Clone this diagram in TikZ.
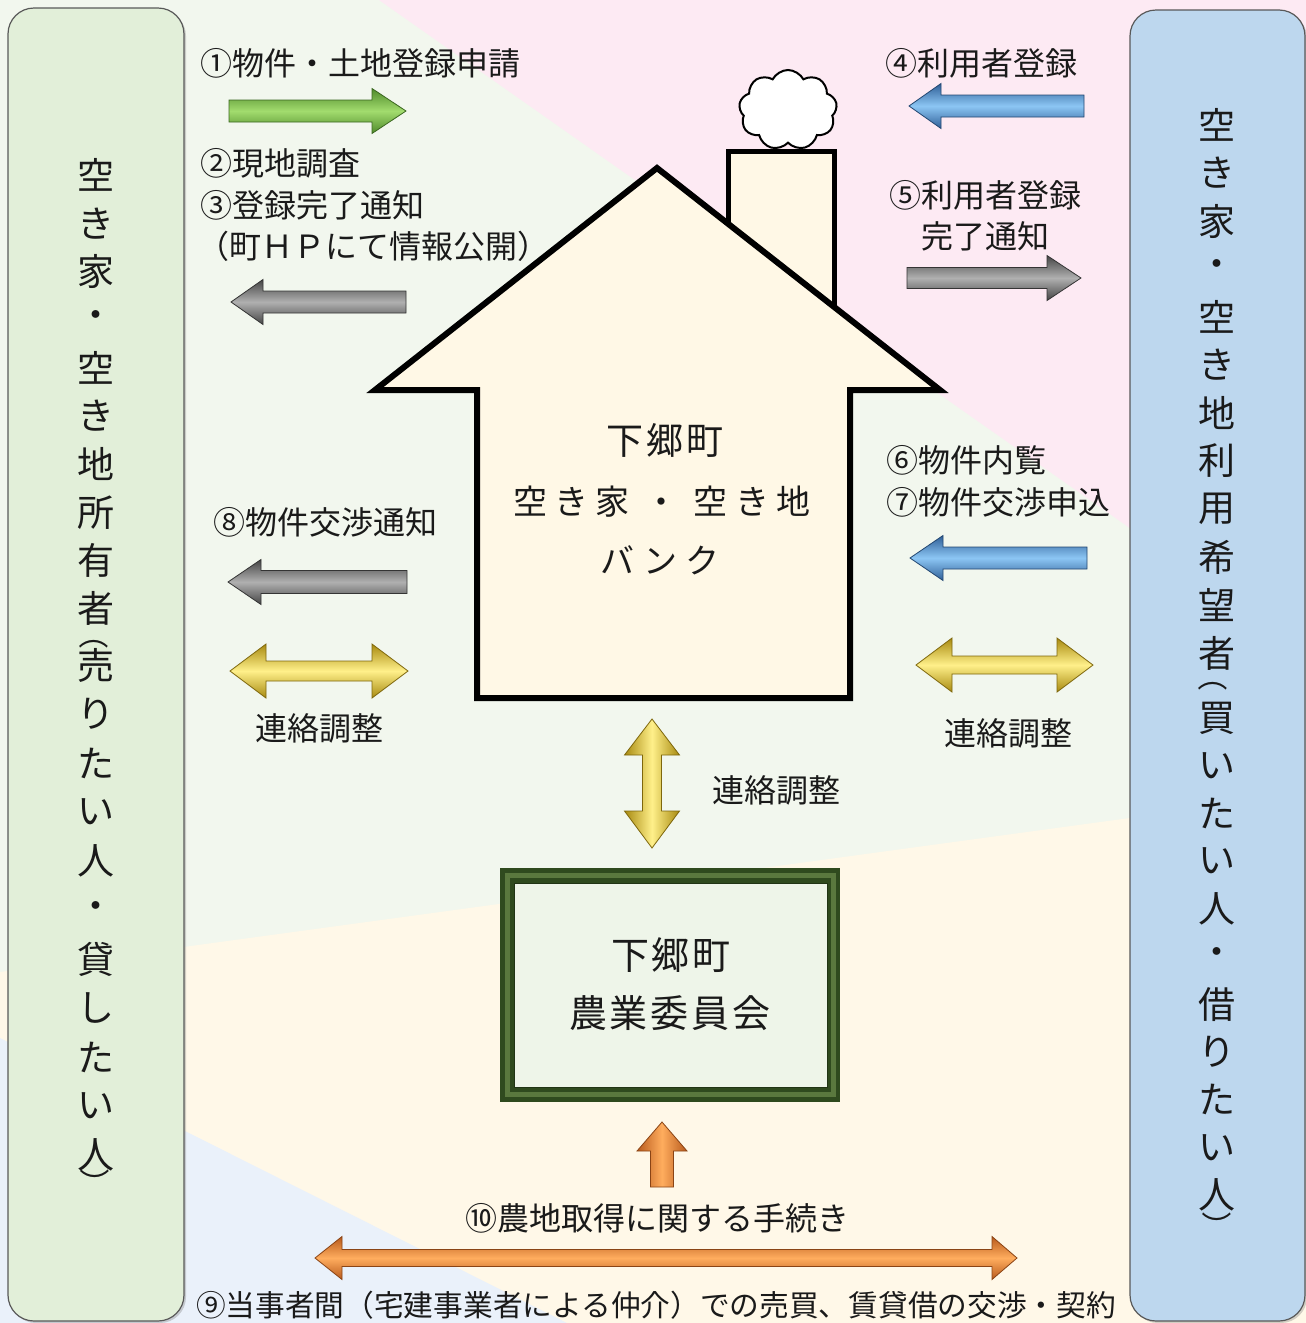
\documentclass[tikz,border=0pt]{standalone}
\usepackage{fontspec}
\usepackage{graphicx}
\setmainfont{Noto Sans CJK JP}
\usetikzlibrary{shapes.symbols,shadows}

\definecolor{bggreen}{HTML}{F2F7EE}
\definecolor{bgpink}{HTML}{FDEAF3}
\definecolor{bgcream}{HTML}{FFF8E8}
\definecolor{bgblue}{HTML}{EAF1FA}
\definecolor{housefill}{HTML}{FFF8E6}
\definecolor{leftfill}{HTML}{E2EFD9}
\definecolor{rightfill}{HTML}{BDD7EE}
\definecolor{boxline}{HTML}{595959}
\definecolor{txt}{HTML}{1A1A1A}
\definecolor{grayD}{HTML}{454545}
\definecolor{grayL}{HTML}{B0B0B0}
\definecolor{greenD}{HTML}{4F8A2A}
\definecolor{greenL}{HTML}{A2DC6E}
\definecolor{blueD}{HTML}{2F5F97}
\definecolor{blueL}{HTML}{8CC6F4}
\definecolor{yelD}{HTML}{A88A10}
\definecolor{yelL}{HTML}{FFF08A}
\definecolor{oraD}{HTML}{B85A1C}
\definecolor{oraL}{HTML}{FFAD5E}
\definecolor{frameD}{HTML}{2F4A1E}
\definecolor{frameM}{HTML}{5A783E}
\definecolor{innerfill}{HTML}{EEF5E9}

\tikzset{
  hshade/.style 2 args={top color=#1, bottom color=#1, middle color=#2, draw=#1!75!black, line width=0.8pt},
  vshade/.style 2 args={left color=#1, right color=#1, middle color=#2, draw=#1!75!black, line width=0.8pt},
  lbl/.style={font=\fontsize{32}{38}\selectfont, text=txt, inner sep=0pt},
  vch/.style={font=\fontsize{37}{40}\selectfont, text=txt, inner sep=0pt},
  vpar/.style={font=\fontsize{30}{30}\selectfont, text=txt, inner sep=0pt},
  bankfont/.style={font=\fontsize{#1}{#1}\selectfont, text=txt, inner sep=0pt},
  sidebox/.style={draw=boxline, line width=1.2pt, rounded corners=26pt, inner sep=0pt,
    drop shadow={shadow xshift=2pt, shadow yshift=-2pt, opacity=0.35}},
}

\newcommand\HArr[7]{\path[#1] (#2,#5-#6) -- (#3,#5-#6) -- (#3,#5-#7) -- (#4,#5) -- (#3,#5+#7) -- (#3,#5+#6) -- (#2,#5+#6) -- cycle;}
\newcommand\DHArr[8]{\path[#1] (#2,#6) -- (#3,#6-#8) -- (#3,#6-#7) -- (#4,#6-#7) -- (#4,#6-#8) -- (#5,#6) -- (#4,#6+#8) -- (#4,#6+#7) -- (#3,#6+#7) -- (#3,#6+#8) -- cycle;}
\newcommand\DVArr[8]{\path[#1] (#6,#2) -- (#6-#8,#3) -- (#6-#7,#3) -- (#6-#7,#4) -- (#6-#8,#4) -- (#6,#5) -- (#6+#8,#4) -- (#6+#7,#4) -- (#6+#7,#3) -- (#6+#8,#3) -- cycle;}
\newcommand\VArr[7]{\path[#1] (#5-#6,#2) -- (#5-#6,#3) -- (#5-#7,#3) -- (#5,#4) -- (#5+#7,#3) -- (#5+#6,#3) -- (#5+#6,#2) -- cycle;}
\newcommand\vopen{\rotatebox[origin=c]{-90}{（}}
\newcommand\vclose{\rotatebox[origin=c]{-90}{）}}

\begin{document}
\begin{tikzpicture}[x=1pt,y=-1pt]
\useasboundingbox (0,0) rectangle (1306,1323);
% background regions
\fill[bggreen] (0,0) rectangle (1306,1323);
\fill[bgpink] (379,0) -- (1306,0) -- (1306,652) -- cycle;
\fill[bgcream] (0,972) -- (1306,794) -- (1306,1323) -- (0,1323) -- cycle;
\fill[bgblue] (0,1038) -- (567,1323) -- (0,1323) -- cycle;

% side boxes
\node[sidebox, fill=leftfill, minimum width=176, minimum height=1313] (leftbox) at (96,664.5) {};
\node[sidebox, fill=rightfill, minimum width=175, minimum height=1311] (rightbox) at (1217.5,665.5) {};

% left vertical text
\foreach \c [count=\i] in {空,き,家,・,空,き,地,所,有,者}
  \node[vch] (La\i) at (96,{175+48.2*(\i-1)}) {\c};
\node[vpar] (Lpo) at (94,634) {\vopen};
\foreach \c [count=\i] in {売,り,た,い,人,・,貸,し,た,い,人}
  \node[vch] (Lb\i) at (96,{665+49*(\i-1)}) {\c};
\node[vpar] (Lpc) at (95,1183) {\vclose};

% right vertical text
\foreach \c [count=\i] in {空,き,家,・,空,き,地,利,用,希,望,者}
  \node[vch] (Ra\i) at (1217,{125+48*(\i-1)}) {\c};
\node[vpar] (Rpo) at (1213,676) {\vopen};
\foreach \c [count=\i] in {買,い,た,い,人,・,借,り,た,い,人}
  \node[vch] (Rb\i) at (1217,{718+47.7*(\i-1)}) {\c};
\node[vpar] (Rpc) at (1217,1226) {\vclose};

% house
\node[draw=black, line width=2pt, fill=white, cloud, cloud puffs=9, cloud puff arc=125, aspect=1.2,
      minimum width=98, minimum height=80, inner sep=0pt] (smoke) at (788,110) {};
\draw[line width=5pt, fill=housefill] (728,310) -- (728,151) -- (834,151) -- (834,310);
\draw[line width=6pt, fill=housefill, line join=miter] (375,390) -- (657,168) -- (940,390) -- (850,390)
   -- (850,698) -- (477,698) -- (477,390) -- cycle;
\node[bankfont=37] (bank1) at (665,440) {下\hspace{3pt}郷\hspace{3pt}町};
\node[bankfont=34] (bank2) at (662,502) {空\hspace{7.5pt}き\hspace{7.5pt}家\hspace{15pt}・\hspace{15pt}空\hspace{7.5pt}き\hspace{7.5pt}地};
\node[bankfont=34] (bank3) at (660,560) {バ\hspace{8.5pt}ン\hspace{8.5pt}ク};

% committee box
\fill[frameD] (500,868) rectangle (840,1102);
\draw[frameM, line width=5pt] (507,875.5) rectangle (833,1094.5);
\fill[innerfill] (514,883) rectangle (827,1087);
\draw[frameD!70!black, line width=0.8pt] (514,883) rectangle (827,1087);
\node[bankfont=38] (com1) at (671,955) {下\hspace{3pt}郷\hspace{3pt}町};
\node[bankfont=38] (com2) at (670,1013) {農\hspace{3pt}業\hspace{3pt}委\hspace{3pt}員\hspace{3pt}会};

% labels
\node[lbl, anchor=west] (l1) at (200,63) {①物件・土地登録申請};
\node[lbl, anchor=west] (l2) at (200,163) {②現地調査};
\node[lbl, anchor=west] (l3) at (200,205) {③登録完了通知};
\node[lbl, anchor=west] (l3b) at (197,246) {（町ＨＰにて情報公開）};
\node[lbl, anchor=west] (l4) at (885,63) {④利用者登録};
\node[lbl] (l5) at (985,195) {⑤利用者登録};
\node[lbl] (l5b) at (985,236) {完了通知};
\node[lbl, anchor=west] (l6) at (886,460) {⑥物件内覧};
\node[lbl, anchor=west] (l7) at (886,502) {⑦物件交渉申込};
\node[lbl, anchor=west] (l8) at (213,522) {⑧物件交渉通知};
\node[lbl] (c1) at (319,728) {連絡調整};
\node[lbl] (c2) at (1008,733) {連絡調整};
\node[lbl] (c3) at (776,790) {連絡調整};
\node[lbl] (l10) at (657,1218) {⑩農地取得に関する手続き};
\node[lbl, font=\fontsize{29.7}{34}\selectfont] (l9) at (656,1305) {⑨当事者間（宅建事業者による仲介）での売買、賃貸借の交渉・契約};

% block arrows
\HArr{hshade={greenD}{greenL}}{229}{372}{406}{111}{11}{22.5}
\HArr{hshade={grayD}{grayL}}{406}{263}{231}{302}{11}{22.5}
\HArr{hshade={blueD}{blueL}}{1084}{941}{909}{106}{11}{22.5}
\HArr{hshade={grayD}{grayL}}{907}{1047}{1081}{278}{10.5}{22.5}
\HArr{hshade={blueD}{blueL}}{1087}{943}{910}{558}{11}{22.5}
\DHArr{hshade={yelD}{yelL}}{916}{952}{1057}{1093}{665}{9}{27}
\HArr{hshade={grayD}{grayL}}{407}{261}{228}{582}{11.5}{22.5}
\DHArr{hshade={yelD}{yelL}}{230}{266}{372}{408}{671}{10}{27}
\DVArr{vshade={yelD}{yelL}}{719}{755}{811}{848}{652}{9.5}{27.5}
\VArr{vshade={oraD}{oraL}}{1187}{1151}{1122}{662}{11.5}{25}
\DHArr{hshade={oraD}{oraL}}{315}{342}{992}{1017}{1258}{8.5}{21.5}
\end{tikzpicture}
\end{document}
